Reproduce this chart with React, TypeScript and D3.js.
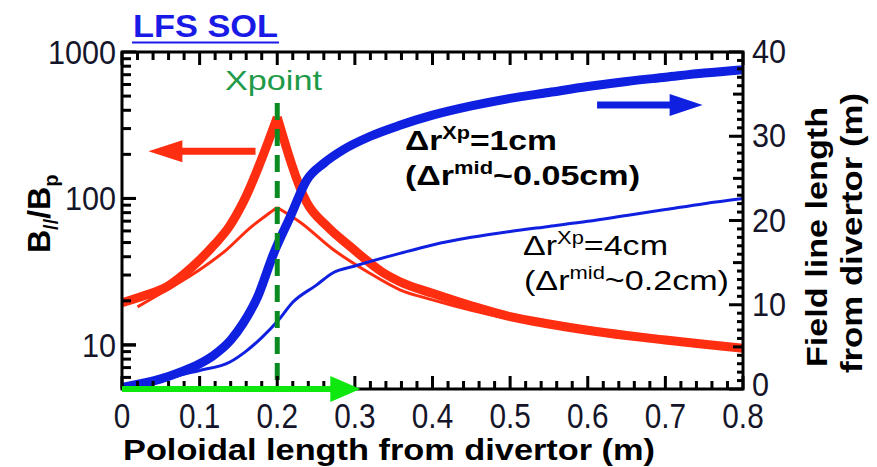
import React from "react";
import * as d3 from "d3";

// ---------- data ----------
const xTickVals = [0, 0.1, 0.2, 0.3, 0.4, 0.5, 0.6, 0.7, 0.8];
const xTickLabels = ["0", "0.1", "0.2", "0.3", "0.4", "0.5", "0.6", "0.7", "0.8"];
const leftTickVals = [10, 100, 1000];
const leftTickLabels = ["10", "100", "1000"];
const rightTickVals = [0, 10, 20, 30, 40];
const rightTickLabels = ["0", "10", "20", "30", "40"];

// B///Bp, Δr^Xp = 1cm (thick red)
const redThickX = [0, 0.03, 0.058, 0.08, 0.1, 0.12, 0.138, 0.156, 0.2, 0.238, 0.265, 0.294, 0.337, 0.358, 0.4, 0.45, 0.5, 0.55, 0.6, 0.65, 0.7, 0.75, 0.8];
const redThickY = [19.4, 21.8, 25, 30.5, 38, 49, 64, 94, 359, 94, 64, 47, 31, 27, 22.5, 18.5, 15.6, 13.9, 12.6, 11.6, 10.8, 10.1, 9.5];
// B///Bp, Δr^Xp = 4cm (thin red)
const redThinX = [0.02, 0.058, 0.1, 0.135, 0.165, 0.187, 0.2, 0.23, 0.272, 0.316, 0.358, 0.4, 0.45, 0.5, 0.55, 0.6, 0.65, 0.7, 0.75, 0.8];
const redThinY = [18.2, 23.8, 32.6, 44.8, 63, 77.5, 86.7, 68.5, 44.8, 31.6, 23.8, 20.3, 17.2, 15, 13.5, 12.3, 11.4, 10.6, 10, 9.4];
// Field line length, Δr^Xp = 1cm (thick blue)
const blueThickX = [0, 0.05, 0.075, 0.1, 0.118, 0.14, 0.156, 0.175, 0.195, 0.217, 0.238, 0.26, 0.285, 0.32, 0.358, 0.4, 0.45, 0.5, 0.55, 0.6, 0.65, 0.7, 0.75, 0.8];
const blueThickY = [0.2, 1.2, 2.0, 3.0, 4.0, 5.8, 7.8, 11, 16, 20.5, 24.8, 26.8, 28.4, 30, 31.3, 32.5, 33.6, 34.5, 35.2, 35.9, 36.5, 37.0, 37.5, 37.9];
// Field line length, Δr^Xp = 4cm (thin blue)
const blueThinX = [0, 0.05, 0.075, 0.1, 0.139, 0.16, 0.18, 0.2, 0.22, 0.25, 0.272, 0.3, 0.358, 0.4, 0.45, 0.5, 0.55, 0.6, 0.65, 0.7, 0.75, 0.8];
const blueThinY = [0.1, 1.0, 1.66, 2.2, 3.2, 4.5, 6.1, 8.0, 10.3, 12.3, 13.8, 14.6, 16.1, 17.1, 18.0, 18.7, 19.3, 19.9, 20.6, 21.3, 22.0, 22.6];

// ---------- layout ----------
const W = 877, H = 467;
const PL = 122, PR = 743, PT = 52, PB = 389;

const x = d3.scaleLinear().domain([0, 0.8]).range([PL, PR]);
const yL = d3.scaleLog().domain([5, 1000]).range([PB, PT]);
const yR = d3.scaleLinear().domain([0, 40]).range([PB, PT]);

const RED = "#ff2e10";
const BLUE = "#1020e0";
const LABEL = "#15152a";
const FONT = "'Liberation Sans', Arial, Helvetica, sans-serif";

const lineL = d3.line<[number, number]>().x(d => x(d[0])).y(d => yL(d[1])).curve(d3.curveMonotoneX);
const lineR = d3.line<[number, number]>().x(d => x(d[0])).y(d => yR(d[1])).curve(d3.curveMonotoneX);
const zip = (a: number[], b: number[]) => a.map((v, i) => [v, b[i]] as [number, number]);

// split a peaked series at its maximum so both halves stay monotone and the peak stays sharp
function peakedPath(xs: number[], ys: number[]) {
  const pts = zip(xs, ys);
  const k = ys.indexOf(Math.max(...ys));
  return (lineL(pts.slice(0, k + 1)) || "") + (lineL(pts.slice(k)) || "");
}

function arrowPath(x0: number, x1: number, y: number, shaft: number, headLen: number, headHalf: number) {
  const dir = Math.sign(x1 - x0);
  const hb = x1 - dir * headLen;
  return `M${x0},${y - shaft / 2}L${hb},${y - shaft / 2}L${hb},${y - headHalf}L${x1},${y}L${hb},${y + headHalf}L${hb},${y + shaft / 2}L${x0},${y + shaft / 2}Z`;
}

type Tick = { x: number; y: number; w: number; h: number };
function buildTicks(): Tick[] {
  const out: Tick[] = [];
  // x ticks: major every 0.1, minor every 0.02, bottom and top, inward
  d3.range(0, 41).forEach(i => {
    const px = x(i * 0.02);
    const len = i % 5 === 0 ? 13 : 8;
    out.push({ x: px - 1.5, y: PB - len, w: 3, h: len });
    out.push({ x: px - 1.5, y: PT, w: 3, h: len });
  });
  // left log ticks
  [1, 10, 100].forEach(dec => {
    for (let k = 1; k <= 10; k++) {
      const v = k * dec;
      if (v < 5 || v > 1000) continue;
      const len = leftTickVals.indexOf(v) >= 0 ? 14 : 9;
      out.push({ x: PL, y: yL(v) - 1.5, w: len, h: 3 });
    }
  });
  // right linear ticks
  d3.range(0, 41).forEach(v => {
    const len = v % 10 === 0 ? 14 : v % 5 === 0 ? 10 : 6;
    out.push({ x: PR - len, y: yR(v) - 1.5, w: len, h: 3 });
  });
  return out;
}
const ticks = buildTicks();

export default function App() {
  return (
    <svg width={W} height={H} style={{ display: "block", position: "absolute", left: 0, top: 0 }} fontFamily={FONT}>
      <rect width={W} height={H} fill="#fff" />

      {/* title */}
      <text x={133} y={37} fontSize={31} fontWeight="bold" fill="#1a1ae6" textLength={145} lengthAdjust="spacingAndGlyphs">LFS SOL</text>
      <line x1={132} x2={279} y1={42.5} y2={42.5} stroke="#1a1ae6" strokeWidth={2} />

      {/* curves */}
      <path d={peakedPath(redThinX, redThinY)} fill="none" stroke={RED} strokeWidth={3} strokeLinejoin="round" />
      <path d={peakedPath(redThickX, redThickY)} fill="none" stroke={RED} strokeWidth={9} strokeLinejoin="round" />
      <path d={lineR(zip(blueThinX, blueThinY)) || ""} fill="none" stroke={BLUE} strokeWidth={3} strokeLinejoin="round" />
      <path d={lineR(zip(blueThickX, blueThickY)) || ""} fill="none" stroke={BLUE} strokeWidth={9} strokeLinejoin="round" />

      {/* X-point dashed line */}
      <line x1={x(0.2)} x2={x(0.2)} y1={103} y2={PB} stroke="#0b8a22" strokeWidth={5} strokeDasharray="17,9" />
      <text x={225} y={90} fontSize={28} fill="#1e9a48" textLength={97} lengthAdjust="spacingAndGlyphs">Xpoint</text>

      {/* arrows */}
      <path d={arrowPath(x(0.172), x(0.034), yL(210), 7, 34, 11)} fill={RED} />
      <path d={arrowPath(x(0.612), x(0.748), yR(33.7), 7, 33, 11)} fill={BLUE} />

      {/* frame and ticks */}
      <rect x={PL} y={PT} width={PR - PL} height={PB - PT} fill="none" stroke="#000" strokeWidth={3} />
      {ticks.map((t, i) => (
        <rect key={"tk" + i} x={t.x} y={t.y} width={t.w} height={t.h} fill="#000" />
      ))}

      {/* green arrow along the bottom, on top of the axis */}
      <path d={arrowPath(x(0), x(0.307), PB, 6, 30, 13)} fill="#0ee80e" />

      {/* tick labels */}
      {xTickVals.map((v, i) => (
        <text key={"xl" + i} transform={`translate(${x(v)},${428}) scale(0.85,1)`} fontSize={35} fill={LABEL} textAnchor="middle">{xTickLabels[i]}</text>
      ))}
      {leftTickVals.map((v, i) => (
        <text key={"yl" + i} transform={`translate(${116},${yL(v) + 12}) scale(0.9,1)`} fontSize={34} fill={LABEL} textAnchor="end">{leftTickLabels[i]}</text>
      ))}
      {rightTickVals.map((v, i) => (
        <text key={"yr" + i} transform={`translate(${752},${yR(v) + (v === 0 ? 7 : 11)}) scale(0.9,1)`} fontSize={34} fill={LABEL} textAnchor="start">{rightTickLabels[i]}</text>
      ))}

      {/* axis titles */}
      <text x={123} y={460} fontSize={30} fontWeight="bold" fill="#000" textLength={532} lengthAdjust="spacingAndGlyphs">Poloidal length from divertor (m)</text>
      <text transform="translate(50,253) rotate(-90)" fontSize={32} fontWeight="bold" fill="#000">
        B<tspan fontSize={20} dy={8}>//</tspan><tspan dy={-8}>/B</tspan><tspan fontSize={20} dy={8}>p</tspan>
      </text>
      <text transform="translate(827,367) rotate(-90)" fontSize={30} fontWeight="bold" fill="#000" textLength={260} lengthAdjust="spacingAndGlyphs">Field line length</text>
      <text transform="translate(862,373) rotate(-90)" fontSize={30} fontWeight="bold" fill="#000" textLength={280} lengthAdjust="spacingAndGlyphs">from divertor (m)</text>

      {/* annotations */}
      <text x={405} y={150} fontSize={28} fontWeight="bold" fill="#000" textLength={152} lengthAdjust="spacingAndGlyphs">
        Δr<tspan fontSize={18} dy={-11}>Xp</tspan><tspan dy={11}>=1cm</tspan>
      </text>
      <text x={405} y={185} fontSize={28} fontWeight="bold" fill="#000" textLength={235} lengthAdjust="spacingAndGlyphs">
        (Δr<tspan fontSize={18} dy={-11}>mid</tspan><tspan dy={11}>~0.05cm)</tspan>
      </text>
      <text x={523} y={255} fontSize={28} fill="#000" textLength={145} lengthAdjust="spacingAndGlyphs">
        Δr<tspan fontSize={18} dy={-11}>Xp</tspan><tspan dy={11}>=4cm</tspan>
      </text>
      <text x={524} y={290} fontSize={28} fill="#000" textLength={205} lengthAdjust="spacingAndGlyphs">
        (Δr<tspan fontSize={18} dy={-11}>mid</tspan><tspan dy={11}>~0.2cm)</tspan>
      </text>
    </svg>
  );
}
